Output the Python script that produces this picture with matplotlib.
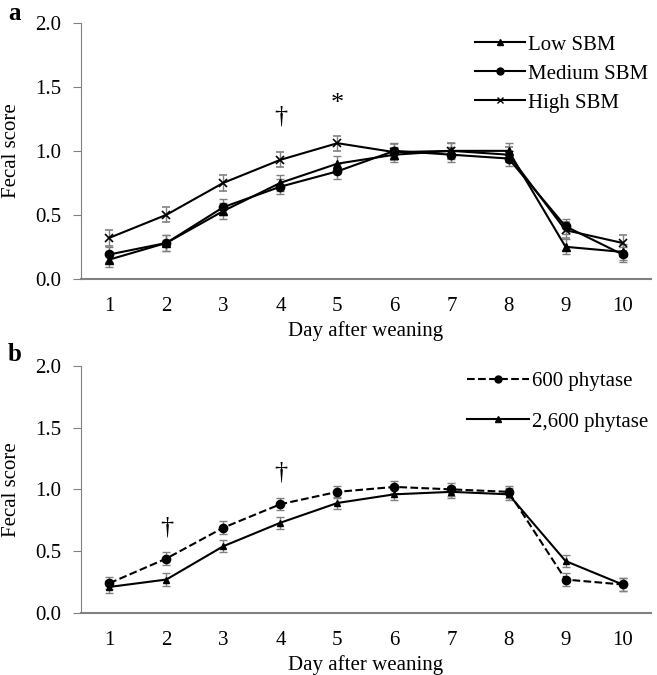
import numpy as np
import matplotlib.pyplot as plt
from matplotlib.lines import Line2D

plt.rcParams['font.family'] = ['Liberation Serif', 'DejaVu Serif']

days = np.arange(1, 11)

# panel a: soybean meal levels
low_sbm = [0.15, 0.28, 0.53, 0.75, 0.90, 0.97, 1.00, 1.00, 0.25, 0.21]
medium_sbm = [0.19, 0.28, 0.56, 0.72, 0.84, 1.00, 0.97, 0.94, 0.41, 0.19]
high_sbm = [0.32, 0.50, 0.75, 0.93, 1.06, 0.99, 1.00, 0.97, 0.38, 0.28]
err_a = 0.06

# panel b: phytase levels
phy_600 = [0.24, 0.44, 0.69, 0.88, 0.98, 1.02, 1.00, 0.98, 0.27, 0.23]
phy_2600 = [0.21, 0.27, 0.54, 0.73, 0.89, 0.96, 0.98, 0.96, 0.42, 0.23]
err_b = 0.05

fig = plt.figure(figsize=(6.57, 6.75), dpi=100)
ax1 = fig.add_axes([0.123, 0.587, 0.868, 0.379])
ax2 = fig.add_axes([0.123, 0.092, 0.868, 0.366])

eb_style = dict(ecolor='gray', elinewidth=1, capsize=3, capthick=1, color='black', lw=1.5)

ax1.errorbar(days, low_sbm, yerr=err_a, marker='^', ms=6, **eb_style)
ax1.errorbar(days, medium_sbm, yerr=err_a, marker='o', ms=6, **eb_style)
ax1.errorbar(days, high_sbm, yerr=err_a, marker='x', ms=6, mew=1.2, **eb_style)
ax1.text(4, 1.18, '†', ha='center', va='bottom', fontsize=19)
ax1.text(5, 1.28, '*', ha='center', va='bottom', fontsize=19)

ax2.errorbar(days, phy_600, yerr=err_b, marker='o', ms=6, ls='--', **eb_style)
ax2.errorbar(days, phy_2600, yerr=err_b, marker='^', ms=5, **eb_style)
ax2.text(2, 0.60, '†', ha='center', va='bottom', fontsize=19)
ax2.text(4, 1.05, '†', ha='center', va='bottom', fontsize=19)

for ax in (ax1, ax2):
    ax.set_xlim(0.5, 10.5)
    ax.set_ylim(0, 2.0)
    ax.set_xticks(days)
    ax.set_yticks([0, 0.5, 1.0, 1.5, 2.0])
    ax.set_yticklabels(['0.0', '0.5', '1.0', '1.5', '2.0'])
    ax.spines['top'].set_visible(False)
    ax.spines['right'].set_visible(False)
    ax.spines['left'].set_color('gray')
    ax.spines['bottom'].set_color('gray')
    ax.spines['bottom'].set_linewidth(1.5)
    ax.tick_params(axis='x', length=0, labelsize=15, pad=13)
    ax.tick_params(axis='y', length=6, color='gray', labelsize=15, pad=8)
    ax.set_xlabel('Day after weaning', fontsize=15, labelpad=4)
    ax.set_ylabel('Fecal score', fontsize=15, labelpad=10)

handles_a = [Line2D([], [], color='black', lw=1.5, marker='^', ms=5),
             Line2D([], [], color='black', lw=1.5, marker='o', ms=5),
             Line2D([], [], color='black', lw=1.5, marker='x', ms=5)]
ax1.legend(handles_a, ['Low SBM', 'Medium SBM', 'High SBM'], loc='upper right',
           frameon=False, fontsize=15, handlelength=2.4, handletextpad=0.15,
           labelspacing=0.45, bbox_to_anchor=(1.01, 0.985), borderaxespad=0)

handles_b = [Line2D([], [], color='black', lw=1.5, ls='--', marker='o', ms=5),
             Line2D([], [], color='black', lw=1.5, marker='^', ms=4)]
ax2.legend(handles_b, ['600 phytase', '2,600 phytase'], loc='upper right',
           frameon=False, fontsize=15, handlelength=3.0, handletextpad=0.15,
           labelspacing=1.0, bbox_to_anchor=(1.01, 1.01), borderaxespad=0)

fig.text(0.012, 0.980, 'a', fontsize=18, fontweight='bold', va='center')
fig.text(0.012, 0.475, 'b', fontsize=18, fontweight='bold', va='center')

fig.savefig('out.png', dpi=100)
